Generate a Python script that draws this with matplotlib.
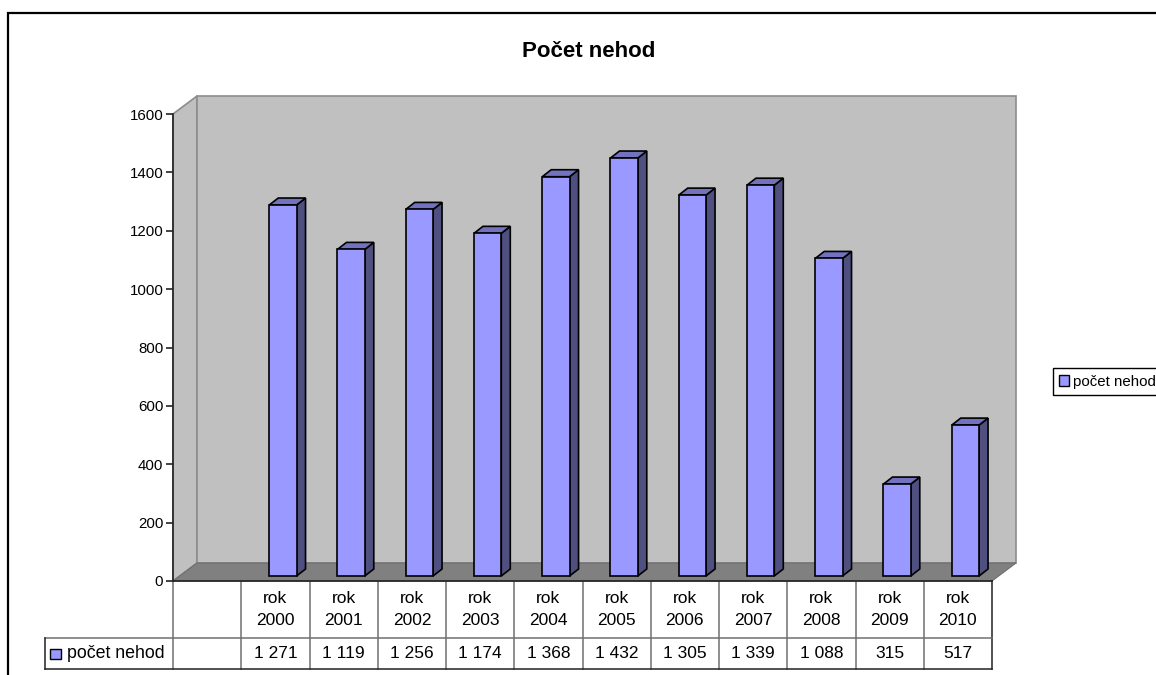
import matplotlib
matplotlib.use("Agg")
import matplotlib.pyplot as plt
from matplotlib.patches import Patch, Rectangle

plt.rcParams['font.family'] = ['Liberation Sans', 'DejaVu Sans']

# values
years = ["2000", "2001", "2002", "2003", "2004", "2005", "2006", "2007", "2008", "2009", "2010"]
accidents = [1271, 1119, 1256, 1174, 1368, 1432, 1305, 1339, 1088, 315, 517]
y_ticks = [0, 200, 400, 600, 800, 1000, 1200, 1400, 1600]
series_name = "počet nehod"
title = "Počet nehod"

W, H = 1156, 675
L, R, T, B = 173, 992, 114, 581  # front plane of the plot, pixels
unit_x = (R - L) / 12
unit_y = (B - T) / 1600

fig = plt.figure(figsize=(W / 100, H / 100), dpi=100)
ax = fig.add_axes([L / W, 1 - B / H, (R - L) / W, (B - T) / H])
ax.set_xlim(-1, 11)
ax.set_ylim(0, 1600)
ax.patch.set_visible(False)

# outer chart frame, runs off the image on the right and at the bottom
fig.add_artist(Rectangle((8 / W, -0.1), 1.2, 1.1 - 13 / H, transform=fig.transFigure,
                         fill=False, edgecolor='black', linewidth=1.6))

# 3d box depth
depth_x = 24 / unit_x
depth_y = 18 / unit_y
wall_edge = '#8c8c8c'
ax.fill([-1, -1 + depth_x, -1 + depth_x, -1], [0, depth_y, 1600 + depth_y, 1600],
        facecolor='#c0c0c0', edgecolor=wall_edge, linewidth=1.2, clip_on=False, zorder=1)
ax.fill([-1 + depth_x, 11 + depth_x, 11 + depth_x, -1 + depth_x],
        [depth_y, depth_y, 1600 + depth_y, 1600 + depth_y],
        facecolor='#c0c0c0', edgecolor=wall_edge, linewidth=1.2, clip_on=False, zorder=1)
ax.fill([-1, -1 + depth_x, 11 + depth_x, 11], [0, depth_y, depth_y, 0],
        facecolor='#808080', edgecolor='#6e6e6e', linewidth=0.8, clip_on=False, zorder=2)

# bars: front face from ax.bar, side and top added as polygons
bar_left = 0.41
bar_w = 0.40
bar_dx = 9 / unit_x
bar_dy = 7 / unit_y
inset = 5 / unit_y
for i, v in enumerate(accidents):
    x0 = i + bar_left
    x1 = x0 + bar_w
    top = v + inset
    ax.fill([x1, x1 + bar_dx, x1 + bar_dx, x1], [inset, inset + bar_dy, top + bar_dy, top],
            facecolor='#4f4f80', edgecolor='black', linewidth=1.2, clip_on=False, zorder=3)
    ax.fill([x0, x0 + bar_dx, x1 + bar_dx, x1], [top, top + bar_dy, top + bar_dy, top],
            facecolor='#7272bf', edgecolor='black', linewidth=1.2, clip_on=False, zorder=3)
    ax.bar(x0, v, bar_w, bottom=inset, align='edge', color='#9999ff', edgecolor='black',
           linewidth=1.2, clip_on=False, zorder=4)

# axes lines
for side in ['top', 'right']:
    ax.spines[side].set_visible(False)
for side in ['left', 'bottom']:
    ax.spines[side].set_color('#222222')
    ax.spines[side].set_linewidth(1.2)
    ax.spines[side].set_zorder(5)
ax.set_xticks([])
ax.set_yticks(y_ticks)
ax.tick_params(axis='y', length=5, width=1.2, color='#222222', labelsize=10.8, pad=2)

ax.set_title(title, fontsize=16, fontweight='bold', x=(589 - L) / (R - L), y=1, pad=41)

# data table under the plot
row1 = -(638 - B) / unit_y
row2 = -(669 - B) / unit_y
left_end = (45 - L) / unit_x - 1
grid = '#707070'
for xv in range(0, 11):
    ax.plot([xv, xv], [0, row2], color=grid, linewidth=1.1, clip_on=False, zorder=2)
ax.plot([-1, -1], [0, row2], color=grid, linewidth=1.1, clip_on=False, zorder=2)
ax.plot([11, 11], [0, row2], color='#222222', linewidth=1.1, clip_on=False, zorder=2)
ax.plot([left_end, 11], [row1, row1], color=grid, linewidth=1.1, clip_on=False, zorder=2)
ax.plot([left_end, 11], [row2, row2], color='#222222', linewidth=1.1, clip_on=False, zorder=2)
ax.plot([left_end, left_end], [row1, row2], color='#222222', linewidth=1.1, clip_on=False, zorder=2)

for i, (yr, v) in enumerate(zip(years, accidents)):
    ax.text(i + 0.5, row1 / 2, "rok\n" + yr, ha='center', va='center', fontsize=12.5,
            linespacing=1.55, clip_on=False)
    ax.text(i + 0.5, (row1 + row2) / 2, f"{v:,}".replace(",", " "), ha='center', va='center',
            fontsize=12.5, clip_on=False)

# legend key in table row
key_x = left_end + 5 / unit_x
ax.add_patch(Rectangle((key_x, (row1 + row2) / 2 - 5 / unit_y), 11 / unit_x, 10 / unit_y,
                       facecolor='#9999ff', edgecolor='black', linewidth=1.0, clip_on=False))
ax.text(left_end + 22 / unit_x, (row1 + row2) / 2, series_name, ha='left', va='center',
        fontsize=12.8, clip_on=False)

# legend on the right
fig.legend(handles=[Patch(facecolor='#9999ff', edgecolor='black', label=series_name)],
           loc='center left', bbox_to_anchor=(1053 / W, 1 - 381.5 / H), fontsize=10.8,
           fancybox=False, framealpha=1, edgecolor='black', borderpad=0.42,
           handlelength=0.65, handleheight=0.7, handletextpad=0.28, borderaxespad=0)

fig.savefig("out.png", dpi=100)
